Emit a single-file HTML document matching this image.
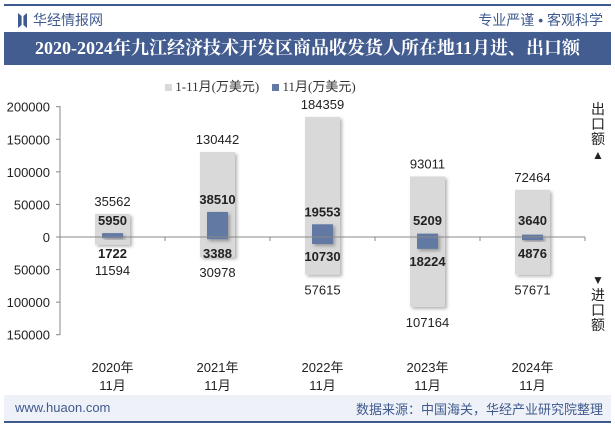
<!DOCTYPE html>
<html><head><meta charset="utf-8"><style>
body{margin:0;width:615px;height:427px;background:#fff;font-family:"Liberation Sans","Noto Sans CJK SC",sans-serif;position:relative;overflow:hidden}
.a{position:absolute}
</style></head><body>
<div class="a" style="left:4px;top:4px;width:607px;height:2px;background:#3f5a8f"></div>
<div class="a" style="left:18px;top:13px;width:9px;height:15px;background:#3f5a8f;clip-path:polygon(0 0,40% 20%,40% 80%,0 100%,0 0,100% 0,100% 100%,60% 80%,60% 20%,100% 0)"></div>
<div class="a" style="left:33px;top:10px;font-size:14px;color:#3f5a8f">华经情报网</div>
<div class="a" style="right:12px;top:10px;font-size:14px;color:#3f5a8f">专业严谨 • 客观科学</div>
<div class="a" style="left:4px;top:32px;width:607px;height:33px;background:#445d91;color:#fff;font-family:'Liberation Serif','Noto Serif CJK SC',serif;font-weight:bold;font-size:18px;line-height:33px;text-align:center">2020-2024年九江经济技术开发区商品收发货人所在地11月进、出口额</div>
<div class="a" style="left:165px;top:76px;font-size:13px;color:#333;font-family:'Liberation Serif','Noto Sans CJK SC',serif">
<span><span style="display:inline-block;width:7px;height:7px;background:#d9d9d9"></span> 1-11月(万美元)</span>&nbsp;&nbsp;&nbsp;
<span><span style="display:inline-block;width:7px;height:7px;background:#627aa3"></span> 11月(万美元)</span></div>
<svg class="a" style="left:0;top:0" width="615" height="427" id="chart"></svg>
<div class="a" style="left:590px;top:102px;width:16px;font-size:14px;line-height:15px;color:#222;text-align:center">出口额<br><span style="font-size:12px">▲</span></div>
<div class="a" style="left:590px;top:272px;width:16px;font-size:14px;line-height:15px;color:#222;text-align:center"><span style="font-size:12px">▼</span><br>进口额</div>
<div class="a" style="left:4px;top:395px;width:607px;height:26px;background:#eef1f7"></div>
<div class="a" style="left:15px;top:400px;font-size:13px;color:#3f5a8f">www.huaon.com</div>
<div class="a" style="right:12px;top:399px;font-size:13px;color:#3f5a8f">数据来源：中国海关，华经产业研究院整理</div>
<div class="a" style="left:4px;top:421px;width:607px;height:2px;background:#3f5a8f"></div>
<script>
const categories=["2020年","2021年","2022年","2023年","2024年"];
const ytdExport=[35562,130442,184359,93011,72464];
const ytdImport=[11594,30978,57615,107164,57671];
const monExport=[5950,38510,19553,5209,3640];
const monImport=[1722,3388,10730,18224,4876];
const yTicks=[200000,150000,100000,50000,0,-50000,-100000,-150000];
const svg=document.getElementById('chart');const NS='http://www.w3.org/2000/svg';
const x0=60,bw=105,y0=237,k=130.3/200000;
const Y=v=>y0-v*k, X=i=>x0+bw*(i+0.5);
function el(t,a,p){const e=document.createElementNS(NS,t);for(const n in a)e.setAttribute(n,a[n]);(p||svg).appendChild(e);return e;}
const defs=el('defs',{});const f=el('filter',{id:'sh',x:'-30%',y:'-30%',width:'160%',height:'160%'},defs);
el('feDropShadow',{dx:2,dy:2,stdDeviation:1.5,'flood-color':'#000','flood-opacity':0.3},f);
el('line',{x1:x0,y1:106,x2:x0,y2:335,stroke:'#888'});
yTicks.forEach(v=>{const t=el('text',{x:50,y:Y(v)+5,'text-anchor':'end','font-size':13,fill:'#222'});t.textContent=Math.abs(v);

el('line',{x1:x0-4,y1:Y(v),x2:x0,y2:Y(v),stroke:'#888'});});
categories.forEach((c,i)=>{const cx=X(i);
const g=el('rect',{x:cx-17.5,y:Y(ytdExport[i]),width:35,height:(ytdExport[i]+ytdImport[i])*k,fill:'#d9d9d9',filter:'url(#sh)'});

const b=el('rect',{x:cx-10.5,y:Y(monExport[i]),width:21,height:(monExport[i]+monImport[i])*k,fill:'#627aa3',filter:'url(#sh)'});

const lab=(txt,y,bold)=>{const t=el('text',{x:cx,y:y,'text-anchor':'middle','font-size':13,'font-weight':bold?'bold':'normal',fill:'#222'});t.textContent=txt;
};
const meY=Math.min(Y(monExport[i])-8,y0-12);
lab(monExport[i],meY,1);
lab(ytdExport[i],Math.min(Y(ytdExport[i])-8,meY-18));
const miY=Math.max(Y(-monImport[i])+17,y0+21);
lab(monImport[i],miY,1);
lab(ytdImport[i],Math.max(Y(-ytdImport[i])+20,miY+17));
const c1=el('text',{x:cx,y:372,'text-anchor':'middle','font-size':13,fill:'#222'});c1.textContent=c;

const c2=el('text',{x:cx,y:390,'text-anchor':'middle','font-size':13,fill:'#222'});c2.textContent='11月';

el('line',{x1:x0+bw*(i+1),y1:y0,x2:x0+bw*(i+1),y2:y0+4,stroke:'#888'});});
el('line',{x1:x0,y1:y0,x2:x0+bw*5,y2:y0,stroke:'#888'});
</script>
</body></html>
